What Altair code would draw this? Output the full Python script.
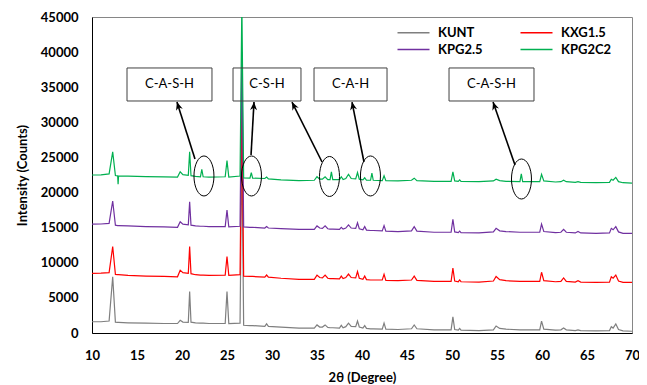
import altair as alt
import pandas as pd
import numpy as np

# ---------------- data ----------------
two_theta = [
    10, 11, 11.9, 12.3, 12.6, 12.85, 12.9, 12.95,
    14, 16, 18, 19.5, 19.8, 20.1, 20.7, 20.85, 21.0, 21.5,
    22.05, 22.2, 22.35, 23, 24.8, 25.0, 25.2, 26.45, 26.65, 26.85, 27.55, 27.7, 27.85,
    29.2, 29.4, 29.6, 31, 33, 34.7, 35.0, 35.3, 35.6, 35.9, 36.2, 36.45, 36.6, 36.75,
    37.5, 37.7, 37.9, 38.2, 38.5, 38.8, 39.3, 39.5, 39.7, 40.1, 40.3, 40.5, 40.95, 41.1, 41.25,
    42.25, 42.45, 42.65, 44, 45.5, 45.8, 46.1, 48, 49.9, 50.1, 50.3, 50.7, 50.85, 51.0,
    53, 54.6, 54.9, 55.3, 56, 57.55, 57.7, 57.85, 59.75, 59.95, 60.2,
    61.5, 62.1, 62.4, 62.7, 63.7, 64.0, 64.3, 66, 67.5, 67.7, 67.9, 68.2, 68.5, 69, 70,
]

kunt = [
    1600, 1600, 1700, 8000, 1550, 1500, 1500, 1500,
    1450, 1400, 1350, 1350, 1800, 1550, 1500, 5900, 1550, 1450,
    1400, 1400, 1400, 1350, 1350, 5900, 1350, 1400, 27000, 1100, 1050, 1050, 1050,
    950, 1300, 950, 850, 700, 700, 1150, 850, 850, 1150, 800, 750, 750, 750,
    700, 1100, 750, 900, 1400, 950, 900, 1700, 850, 700, 1050, 650, 600, 600, 600,
    550, 1400, 550, 500, 600, 1150, 600, 450, 450, 2300, 500, 400, 650, 400,
    350, 450, 1000, 650, 550, 450, 450, 450, 450, 1700, 550,
    400, 450, 700, 450, 350, 450, 350, 300, 350, 900, 700, 1300, 500, 300, 250,
]

kxg15 = [
    8500, 8520, 8600, 12300, 8350, 8300, 8300, 8300,
    8200, 8100, 8050, 8000, 8950, 8600, 8500, 12300, 8450, 8300,
    8250, 8250, 8250, 8200, 8250, 10900, 8200, 8300, 33000, 8100, 8050, 8050, 8050,
    7950, 8260, 7950, 7800, 7650, 7650, 8250, 7900, 7850, 8250, 7800, 7750, 7750, 7750,
    7700, 8100, 7750, 7900, 8400, 7900, 7850, 8750, 7800, 7650, 8100, 7600, 7550, 7550, 7550,
    7550, 8350, 7500, 7450, 7550, 8100, 7500, 7350, 7350, 9250, 7400, 7300, 7550, 7300,
    7250, 7400, 8050, 7600, 7450, 7350, 7350, 7350, 7350, 8650, 7450,
    7300, 7350, 7850, 7350, 7250, 7450, 7250, 7200, 7250, 8000, 7800, 8250, 7400, 7200, 7200,
]

kpg25 = [
    15500, 15520, 15600, 18800, 15350, 15300, 15300, 15300,
    15250, 15150, 15100, 15050, 15850, 15500, 15400, 18700, 15350, 15250,
    15200, 15200, 15200, 15150, 15150, 17500, 15100, 15200, 40000, 15100, 15050, 15050, 15050,
    14950, 15150, 14950, 14850, 14750, 14750, 15250, 14950, 14900, 15250, 14850, 14800, 14800, 14800,
    14750, 15050, 14800, 14950, 15400, 14950, 14900, 15700, 14850, 14700, 15150, 14650, 14600, 14600, 14600,
    14550, 15300, 14500, 14450, 14550, 15150, 14500, 14350, 14350, 16200, 14400, 14300, 14500, 14300,
    14250, 14400, 14900, 14550, 14450, 14350, 14350, 14350, 14350, 15500, 14450,
    14300, 14350, 14750, 14350, 14250, 14450, 14250, 14200, 14250, 14900, 14700, 15150, 14400, 14200, 14200,
]

kpg2c2 = [
    22500, 22520, 22650, 25800, 22420, 22380, 21200, 22380,
    22330, 22280, 22230, 22200, 22950, 22550, 22450, 25800, 22400, 22300,
    22250, 23300, 22250, 22200, 22250, 24550, 22200, 22350, 47000, 22100, 22050, 22850, 22050,
    22000, 22200, 21950, 21800, 21700, 21750, 22250, 21900, 21900, 22250, 21850, 21850, 22950, 21850,
    21850, 22250, 21850, 22000, 22600, 22000, 21950, 22850, 21900, 21800, 22100, 21750, 21750, 22780, 21750,
    21700, 22400, 21700, 21650, 21750, 22050, 21700, 21600, 21600, 22950, 21650, 21600, 21800, 21600,
    21550, 21650, 21900, 21700, 21600, 21550, 22650, 21550, 21550, 22600, 21650,
    21500, 21550, 21750, 21550, 21450, 21550, 21450, 21400, 21450, 21900, 21750, 22150, 21550, 21400, 21350,
]

# drawing order (later on top)
series_names = ["KUNT", "KXG1.5", "KPG2.5", "KPG2C2"]
series_colors = ["#7F7F7F", "#FF0000", "#7030A0", "#00B050"]
# legend order (legend grid fills column by column)
legend_order = ["KUNT", "KPG2.5", "KXG1.5", "KPG2C2"]

x_ticks = [10, 15, 20, 25, 30, 35, 40, 45, 50, 55, 60, 65, 70]
y_ticks = [0, 5000, 10000, 15000, 20000, 25000, 30000, 35000, 40000, 45000]

# annotations (data coordinates)
box_labels = ["C-A-S-H", "C-S-H", "C-A-H", "C-A-S-H"]
box_x1 = [13.89, 25.67, 34.67, 49.67]
box_x2 = [23.33, 33.22, 42.78, 59.11]
box_y1 = [33040, 33040, 33040, 33040]
box_y2 = [37740, 37740, 37740, 37740]

ellipse_x = [22.44, 27.72, 36.39, 40.94, 57.72]
ellipse_y = [22360, 22360, 22290, 22360, 21930]

arrow_x1 = [21.44, 27.67, 35.56, 40.22, 57.0]
arrow_y1 = [24780, 25350, 24350, 24350, 23920]
arrow_x2 = [19.44, 28.0, 32.22, 38.89, 54.56]
arrow_y2 = [32890, 32890, 32890, 32890, 32890]

# ---------------- build tables ----------------
W, H = 540, 316
XMIN, XMAX, YMIN, YMAX = 10, 70, 0, 45000

all_series = [kunt, kxg15, kpg25, kpg2c2]
for s in all_series:
    assert len(s) == len(two_theta), (len(s), len(two_theta))

rows = []
for name, vals in zip(series_names, all_series):
    for t, v in zip(two_theta, vals):
        rows.append({"theta": t, "counts": v, "series": name})
df = pd.DataFrame(rows)

boxes = pd.DataFrame({"x1": box_x1, "x2": box_x2, "y1": box_y1, "y2": box_y2, "label": box_labels})
boxes["xc"] = (boxes.x1 + boxes.x2) / 2
boxes["yc"] = (boxes.y1 + boxes.y2) / 2

ell = pd.DataFrame({"x": ellipse_x, "y": ellipse_y})

arr = pd.DataFrame({"x1": arrow_x1, "y1": arrow_y1, "x2": arrow_x2, "y2": arrow_y2})
dx = (arr.x2 - arr.x1) * W / (XMAX - XMIN)
dy = -(arr.y2 - arr.y1) * H / (YMAX - YMIN)
arr["ang"] = np.degrees(np.arctan2(dx, -dy)) % 360

# ---------------- chart ----------------
FONT = "Lato"
xs = alt.Scale(domain=[XMIN, XMAX], nice=False, zero=False)
ys = alt.Scale(domain=[YMIN, YMAX], nice=False)

x_axis = alt.Axis(values=x_ticks, title="2θ (Degree)", grid=False, ticks=False, tickSize=0,
                  labelFlush=False, labelOverlap=False, labelPadding=16,
                  labelFont=FONT, labelFontWeight="bold", labelFontSize=13, labelColor="black",
                  titleFont=FONT, titleFontWeight="bold", titleFontSize=13, titleColor="black",
                  titlePadding=9, domainColor="#000000", domainWidth=1)
y_axis = alt.Axis(values=y_ticks, format="d", title="Intensity (Counts)", grid=False, ticks=False,
                  tickSize=0, labelFlush=False, labelOverlap=False, labelPadding=14,
                  labelFont=FONT, labelFontWeight="bold", labelFontSize=13, labelColor="black",
                  titleFont=FONT, titleFontWeight="bold", titleFontSize=13, titleColor="black",
                  titlePadding=11, domainColor="#000000", domainWidth=1)

legend = alt.Legend(title=None, orient="none", legendX=303, legendY=9, columns=2,
                    columnPadding=34, rowPadding=3, symbolType="M-1,0L7,0", symbolSize=64,
                    symbolStrokeWidth=1.5, labelOffset=30, labelFont=FONT, labelFontWeight="bold",
                    labelFontSize=13, labelColor="black", padding=0)

color = alt.Color("series:N",
                  scale=alt.Scale(domain=legend_order,
                                  range=[series_colors[series_names.index(n)] for n in legend_order]),
                  legend=legend)

X = lambda f: alt.X(f, scale=xs, axis=x_axis)
Y = lambda f: alt.Y(f, scale=ys, axis=y_axis)

lines = []
for n in series_names:
    lines.append(
        alt.Chart(df).transform_filter(alt.datum.series == n)
        .mark_line(strokeWidth=1.2, clip=True)
        .encode(x=X("theta:Q"), y=Y("counts:Q"), color=color)
    )

rects = alt.Chart(boxes).mark_rect(fill="transparent", stroke="#404040", strokeWidth=1).encode(
    x=X("x1:Q"), x2="x2:Q", y=Y("y1:Q"), y2="y2:Q")

texts = alt.Chart(boxes).mark_text(font=FONT, fontSize=13, color="black", align="center",
                                   baseline="middle").encode(
    x=X("xc:Q"), y=Y("yc:Q"), text="label:N")

ellipse_path = ("M0,-1 C0.276,-1 0.5,-0.552 0.5,0 C0.5,0.552 0.276,1 0,1 "
                "C-0.276,1 -0.5,0.552 -0.5,0 C-0.5,-0.552 -0.276,-1 0,-1 Z")
ellipses = alt.Chart(ell).mark_point(shape=ellipse_path, size=1600, filled=False, stroke="black",
                                     strokeWidth=1, opacity=1).encode(
    x=X("x:Q"), y=Y("y:Q"))

arrow_lines = alt.Chart(arr).mark_rule(color="black", strokeWidth=1.6).encode(
    x=X("x1:Q"), y=Y("y1:Q"), x2="x2:Q", y2="y2:Q")

heads = alt.Chart(arr).mark_point(shape="M0,0 L0.5,1.15 L0,0.8 L-0.5,1.15 Z", size=196, filled=True,
                                  color="black", opacity=1).encode(
    x=X("x2:Q"), y=Y("y2:Q"), angle=alt.Angle("ang:Q", scale=None))

chart = alt.layer(*lines, rects, texts, arrow_lines, heads, ellipses).properties(
    width=W, height=H,
    padding={"left": 84, "top": 9, "right": 7, "bottom": 52},
    autosize=alt.AutoSizeParams(type="none"),
    background="white",
).configure_view(stroke="#868686", strokeWidth=1)

chart.save("out.html", embed_options={"renderer": "svg", "actions": False})
